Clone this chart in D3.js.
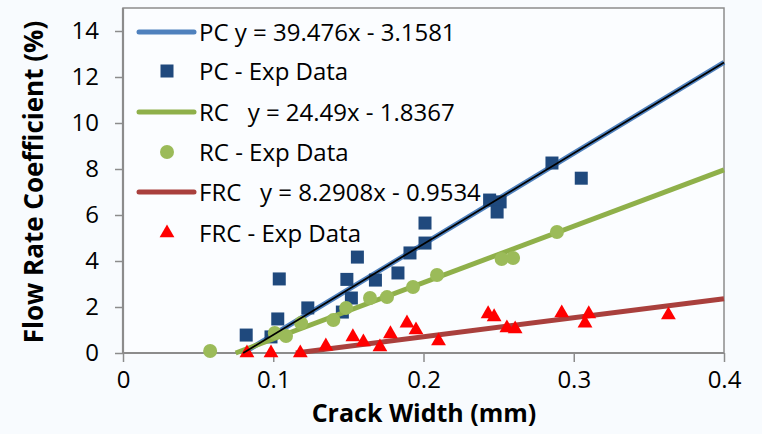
<!DOCTYPE html>
<html>
<head>
<meta charset="utf-8">
<script src="https://cdn.jsdelivr.net/npm/d3@7/dist/d3.min.js"></script>
<style>
  html, body { margin: 0; padding: 0; background: #ffffff; }
  svg { display: block; font-family: "Open Sans", Lato, sans-serif; }
  text { white-space: pre; }
</style>
</head>
<body>
<svg id="chart" width="762" height="434"></svg>
<script>
// Experimental flow rate coefficients vs crack width
const pcWidth = [0.082, 0.0985, 0.104, 0.103, 0.123, 0.146, 0.149, 0.152, 0.156, 0.168, 0.183, 0.191, 0.201, 0.201, 0.244, 0.251, 0.249, 0.2855, 0.305];
const pcFlow  = [0.78, 0.70, 3.22, 1.48, 1.96, 1.78, 3.20, 2.39, 4.17, 3.17, 3.48, 4.35, 5.65, 4.78, 6.65, 6.57, 6.13, 8.26, 7.60];

const rcWidth = [0.058, 0.101, 0.1085, 0.1185, 0.140, 0.1485, 0.1644, 0.1757, 0.193, 0.209, 0.252, 0.2596, 0.2888];
const rcFlow  = [0.09, 0.87, 0.74, 1.30, 1.43, 1.96, 2.39, 2.43, 2.87, 3.39, 4.09, 4.13, 5.26];

const frcWidth = [0.0825, 0.0985, 0.118, 0.135, 0.153, 0.160, 0.171, 0.178, 0.189, 0.195, 0.210, 0.243, 0.247, 0.2555, 0.261, 0.292, 0.310, 0.3075, 0.363];
const frcFlow  = [0.0, 0.0, 0.0, 0.30, 0.70, 0.48, 0.26, 0.83, 1.30, 1.00, 0.52, 1.70, 1.57, 1.09, 1.04, 1.74, 1.70, 1.30, 1.65];

// Linear fits: y = slope * x + intercept
const fitNames      = ["PC", "RC", "FRC"];
const fitSlopes     = [39.476, 24.49, 8.2908];
const fitIntercepts = [-3.1581, -1.8367, -0.9534];

const legendLabels = [
  "PC y = 39.476x - 3.1581",
  "PC - Exp Data",
  "RC   y = 24.49x - 1.8367",
  "RC - Exp Data",
  "FRC   y = 8.2908x - 0.9534",
  "FRC - Exp Data"
];

const xTicks = [0, 0.1, 0.2, 0.3, 0.4];
const yTicks = [0, 2, 4, 6, 8, 10, 12, 14];

const svg = d3.select("#chart");
const W = 762, H = 434;
const plot = { left: 123, right: 724, top: 8, bottom: 353 };

const x = d3.scaleLinear().domain([0, 0.4]).range([plot.left, plot.right]);
const y = d3.scaleLinear().domain([0, 15]).range([plot.bottom, plot.top]);

// soft page background
svg.append("rect").attr("width", W).attr("height", H).attr("fill", "#f8fbfe");

const axisGray = "#8c8c8c";

// plot-area frame
svg.append("rect")
  .attr("x", plot.left).attr("y", plot.top)
  .attr("width", plot.right - plot.left).attr("height", plot.bottom - plot.top)
  .attr("fill", "#fbfdff").attr("stroke", axisGray).attr("stroke-width", 1.5);

// axes
const xAxis = d3.axisBottom(x).tickValues(xTicks).tickSize(9).tickFormat(d3.format("~g"));
const yAxis = d3.axisLeft(y).tickValues(yTicks).tickSize(8).tickFormat(d3.format("d"));

const gx = svg.append("g").attr("transform", `translate(0,${plot.bottom})`).call(xAxis);
const gy = svg.append("g").attr("transform", `translate(${plot.left},0)`).call(yAxis);

[gx, gy].forEach(g => {
  g.select(".domain").attr("stroke", axisGray).attr("stroke-width", 2.2);
  g.selectAll(".tick line").attr("stroke", axisGray).attr("stroke-width", 1.5);
  g.selectAll(".tick text").attr("fill", "#000").style("font-size", "24px").style("font-family", "'Open Sans', sans-serif");
});
gx.select(".domain").attr("d", `M${plot.left},0H${plot.right}`);
gy.select(".domain").attr("d", `M0,${plot.bottom}V${plot.top}`);
gx.selectAll(".tick text").attr("y", 35).attr("dy", "0");
gy.selectAll(".tick text").attr("x", -24);

// axis titles
svg.append("text")
  .attr("x", 424).attr("y", 422)
  .attr("text-anchor", "middle")
  .style("font-size", "25px").style("font-weight", "bold")
  .text("Crack Width (mm)");

svg.append("text")
  .attr("transform", `translate(43,182) rotate(-90)`)
  .attr("text-anchor", "middle")
  .style("font-size", "26px").style("font-weight", "bold")
  .text("Flow Rate Coefficient (%)");

// trend line segments from the zero crossing to the right edge
const fitLine = i => {
  const x0 = -fitIntercepts[i] / fitSlopes[i];
  const x1 = 0.4;
  return [[x0, 0], [x1, fitSlopes[i] * x1 + fitIntercepts[i]]];
};
const line = d3.line().x(d => x(d[0])).y(d => y(d[1]));

const colors = {
  pcLine: "#4f81bd", pcMark: "#1f497d",
  rcLine: "#8fb04a", rcMark: "#9bbb59",
  frcLine: "#a9403d", frcMark: "#ff0000"
};

const g = svg.append("g");

// PC
g.append("path").attr("d", line(fitLine(0))).attr("stroke", colors.pcLine).attr("stroke-width", 5).attr("fill", "none");
g.selectAll(".pc").data(d3.range(pcWidth.length)).join("rect")
  .attr("x", i => x(pcWidth[i]) - 6.5).attr("y", i => y(pcFlow[i]) - 6.5)
  .attr("width", 13).attr("height", 13).attr("fill", colors.pcMark);

// RC
g.append("path").attr("d", line(fitLine(1))).attr("stroke", colors.rcLine).attr("stroke-width", 5).attr("fill", "none");
g.selectAll(".rc").data(d3.range(rcWidth.length)).join("circle")
  .attr("cx", i => x(rcWidth[i])).attr("cy", i => y(rcFlow[i]))
  .attr("r", 7).attr("fill", colors.rcMark);

// FRC
g.append("path").attr("d", line(fitLine(2))).attr("stroke", colors.frcLine).attr("stroke-width", 5).attr("fill", "none");
const tri = d3.symbol().type(d3.symbolTriangle).size(95);
g.selectAll(".frc").data(d3.range(frcWidth.length)).join("path")
  .attr("d", tri)
  .attr("transform", i => `translate(${x(frcWidth[i])},${y(frcFlow[i])})`)
  .attr("fill", colors.frcMark);

// thin black fit over the PC trend
g.append("path").attr("d", line(fitLine(0))).attr("stroke", "#000").attr("stroke-width", 1.8).attr("fill", "none");

// legend
const leg = svg.append("g");
const rowY = [32, 71, 112, 152, 192, 233];
const kinds = ["line", "square", "line", "circle", "line", "triangle"];
const kindColor = [colors.pcLine, colors.pcMark, colors.rcLine, colors.rcMark, colors.frcLine, colors.frcMark];
legendLabels.forEach((lab, i) => {
  const yy = rowY[i];
  if (kinds[i] === "line") {
    leg.append("line").attr("x1", 139).attr("x2", 194).attr("y1", yy).attr("y2", yy)
      .attr("stroke", kindColor[i]).attr("stroke-width", 5).attr("stroke-linecap", "round");
  } else if (kinds[i] === "square") {
    leg.append("rect").attr("x", 167 - 6.5).attr("y", yy - 6.5).attr("width", 13).attr("height", 13).attr("fill", kindColor[i]);
  } else if (kinds[i] === "circle") {
    leg.append("circle").attr("cx", 167).attr("cy", yy).attr("r", 7).attr("fill", kindColor[i]);
  } else {
    leg.append("path").attr("d", tri).attr("transform", `translate(167,${yy})`).attr("fill", kindColor[i]);
  }
  leg.append("text").attr("x", 199).attr("y", yy).attr("dy", "0.36em")
    .style("font-size", "24px").text(lab);
});
</script>
</body>
</html>
